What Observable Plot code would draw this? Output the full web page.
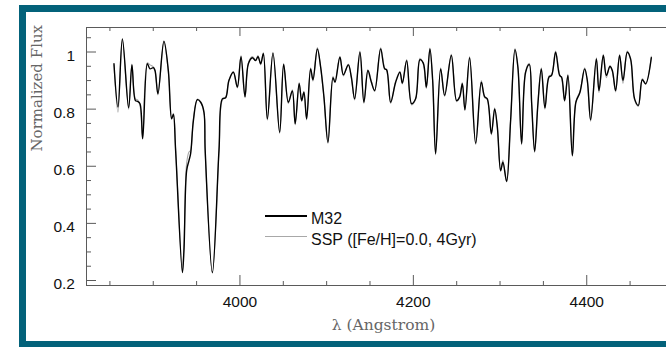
<!DOCTYPE html>
<html>
<head>
<meta charset="utf-8">
<script src="https://cdn.jsdelivr.net/npm/d3@7"></script>
<script src="https://cdn.jsdelivr.net/npm/@observablehq/plot@0.6"></script>
<style>
  html, body { margin: 0; padding: 0; width: 666px; height: 347px; overflow: hidden; background: #fff; }
  #border { position: absolute; left: 19px; top: 5px; width: 700px; height: 343px; box-sizing: border-box; border: 7px solid #03627a; }
  #chart { position: absolute; left: 0; top: 0; }
  .leg { position: absolute; font-family: "Liberation Sans", Arial, sans-serif; font-size: 16px; line-height: 16px; color: #111; white-space: nowrap; }
  .legline { position: absolute; }
</style>
</head>
<body>
<div id="border"></div>
<div id="chart"></div>
<div id="legend"></div>
<script>
// Wavelength samples (Angstrom)
const wavelength = [
  3854.7, 3859.3, 3864.4, 3871.6, 3875.4, 3879.4, 3882.0, 3884.7, 3887.8, 3893.2,
  3896.2, 3900.1, 3902.0, 3905.4, 3912.3, 3917.4, 3921.2, 3923.2, 3925.8, 3933.6,
  3935.4, 3938.5, 3941.2, 3943.1, 3946.3, 3950.9, 3954.7, 3958.5, 3959.9, 3968.2,
  3975.8, 3979.7, 3983.5, 3987.3, 3992.4, 3997.0, 4001.2, 4005.8, 4009.7, 4014.3,
  4018.1, 4020.8, 4023.9, 4027.0, 4031.6, 4038.1, 4045.8, 4050.4, 4055.8, 4060.4,
  4063.7, 4068.3, 4071.2, 4073.8, 4076.9, 4081.5, 4084.2, 4089.3, 4093.1, 4096.9,
  4101.5, 4107.3, 4109.6, 4115.3, 4119.3, 4125.0, 4128.5, 4132.3, 4138.4, 4143.0,
  4147.6, 4151.6, 4155.4, 4162.3, 4166.9, 4169.2, 4173.8, 4179.6, 4184.5, 4187.3,
  4192.3, 4198.0, 4202.6, 4207.6, 4211.5, 4215.0, 4219.1, 4222.3, 4225.7, 4231.5,
  4236.1, 4243.8, 4249.9, 4253.4, 4256.5, 4259.5, 4264.9, 4271.9, 4278.4, 4282.2,
  4285.3, 4290.0, 4293.8, 4296.9, 4300.7, 4303.3, 4307.6, 4312.2, 4317.2, 4320.6,
  4324.9, 4329.5, 4333.8, 4336.5, 4339.9, 4343.7, 4347.6, 4351.8, 4356.4, 4359.5,
  4364.1, 4368.7, 4371.0, 4374.5, 4378.3, 4383.4, 4387.5, 4392.2, 4397.6, 4400.7,
  4404.5, 4411.1, 4414.1, 4419.1, 4422.6, 4426.8, 4429.5, 4433.3, 4437.9, 4441.8,
  4446.8, 4450.6, 4455.2, 4459.5, 4464.1, 4467.9, 4474.5
];
// M32 normalized flux
const fluxM32 = [
  0.959, 0.807, 1.046, 0.805, 0.955, 0.830, 0.827, 0.819, 0.696, 0.959,
  0.941, 0.945, 0.935, 0.854, 1.038, 0.935, 0.766, 0.781, 0.655, 0.228,
  0.305, 0.585, 0.620, 0.644, 0.760, 0.833, 0.824, 0.789, 0.655, 0.228,
  0.655, 0.836, 0.840, 0.900, 0.929, 0.877, 0.984, 0.844, 0.959, 0.980,
  0.970, 0.984, 0.959, 0.994, 0.766, 0.996, 0.719, 0.956, 0.824, 0.864,
  0.749, 0.889, 0.830, 0.859, 0.766, 0.941, 0.903, 1.011, 0.947, 0.842,
  0.684, 0.910, 0.894, 0.982, 0.920, 0.955, 0.912, 0.836, 0.999, 0.824,
  0.935, 0.894, 0.865, 1.011, 0.941, 0.938, 0.824, 0.894, 0.929, 0.891,
  0.970, 0.819, 0.836, 0.973, 0.961, 0.877, 1.011, 0.900, 0.644, 0.941,
  0.848, 0.988, 0.830, 0.842, 0.889, 0.798, 0.980, 0.680, 0.894, 0.844,
  0.836, 0.714, 0.801, 0.737, 0.585, 0.614, 0.547, 0.760, 1.008, 0.947,
  0.679, 0.929, 0.956, 0.819, 0.652, 0.819, 0.941, 0.805, 0.912, 0.918,
  0.999, 0.918, 0.912, 0.830, 0.918, 0.638, 0.824, 0.859, 0.941, 0.900,
  0.763, 0.976, 0.865, 0.988, 0.918, 0.949, 0.935, 0.865, 0.988, 0.900,
  0.999, 0.976, 0.836, 0.813, 0.903, 0.889, 0.980
];
// SSP ([Fe/H]=0.0, 4Gyr) normalized flux
const fluxSSP = [
  0.955, 0.789, 1.042, 0.800, 0.958, 0.836, 0.832, 0.812, 0.700, 0.962,
  0.955, 0.948, 0.938, 0.850, 1.035, 0.930, 0.770, 0.785, 0.660, 0.230,
  0.320, 0.610, 0.650, 0.655, 0.765, 0.835, 0.826, 0.790, 0.650, 0.226,
  0.650, 0.832, 0.842, 0.902, 0.932, 0.874, 0.988, 0.840, 0.962, 0.984,
  0.972, 0.988, 0.955, 0.998, 0.762, 0.999, 0.715, 0.960, 0.820, 0.868,
  0.745, 0.893, 0.826, 0.862, 0.762, 0.945, 0.898, 1.016, 0.943, 0.838,
  0.680, 0.915, 0.898, 0.985, 0.916, 0.958, 0.908, 0.832, 1.003, 0.820,
  0.938, 0.898, 0.862, 1.015, 0.944, 0.936, 0.820, 0.898, 0.932, 0.888,
  0.974, 0.815, 0.834, 0.978, 0.958, 0.872, 1.014, 0.896, 0.640, 0.945,
  0.845, 0.992, 0.826, 0.846, 0.893, 0.795, 0.984, 0.676, 0.900, 0.840,
  0.834, 0.710, 0.805, 0.733, 0.582, 0.622, 0.545, 0.764, 1.012, 0.943,
  0.675, 0.933, 0.960, 0.815, 0.648, 0.823, 0.945, 0.800, 0.916, 0.921,
  1.003, 0.922, 0.908, 0.826, 0.922, 0.634, 0.828, 0.862, 0.945, 0.896,
  0.758, 0.980, 0.858, 0.992, 0.910, 0.953, 0.932, 0.860, 0.992, 0.890,
  1.003, 0.972, 0.832, 0.810, 0.907, 0.886, 0.985
];

// Axis definitions
const xDomain = [3823, 4492];
const yDomain = [0.1825, 1.0858];
const xMajorTicks = [4000, 4200, 4400];
const xMinorTicks = [3850, 3900, 3950, 4050, 4100, 4150, 4250, 4300, 4350, 4450];
const yMajorTicks = [0.2, 0.4, 0.6, 0.8, 1.0];
const yMinorTicks = [0.25, 0.3, 0.35, 0.45, 0.5, 0.55, 0.65, 0.7, 0.75, 0.85, 0.9, 0.95, 1.05];
const xTitle = "λ (Angstrom)";
const yTitle = "Normalized Flux";
const seriesNames = ["M32", "SSP ([Fe/H]=0.0, 4Gyr)"];
const seriesColors = ["#000000", "#a8a8a8"];

const table = wavelength.map((w, i) => ({w, m32: fluxM32[i], ssp: fluxSSP[i]}));

const W = 666, H = 347, mL = 86, mT = 27, mR = 0, mB = 62;
const fw = W - mL - mR, fh = H - mT - mB;
const axisColor = "#5a5a5a";
const sans = "'Liberation Sans', Arial, sans-serif";
const serif = "'DejaVu Serif', serif";

const chart = Plot.plot({
  width: W, height: H,
  marginLeft: mL, marginTop: mT, marginRight: mR, marginBottom: mB,
  x: {domain: xDomain, axis: null},
  y: {domain: yDomain, axis: null},
  style: {background: "transparent", overflow: "visible"},
  marks: [
    Plot.line(table, {x: "w", y: "ssp", stroke: seriesColors[1], strokeWidth: 1.1, curve: "catmull-rom"}),
    Plot.line(table, {x: "w", y: "m32", stroke: seriesColors[0], strokeWidth: 1.4, curve: "catmull-rom"}),
    // frame (top, bottom, left)
    Plot.ruleY([yDomain[1], yDomain[0]], {stroke: axisColor, strokeWidth: 1}),
    Plot.ruleX([xDomain[0]], {stroke: axisColor, strokeWidth: 1}),
    // x ticks bottom & top
    Plot.ruleX(xMajorTicks, {stroke: axisColor, insetTop: fh - 10}),
    Plot.ruleX(xMinorTicks, {stroke: axisColor, insetTop: fh - 4}),
    Plot.ruleX(xMajorTicks, {stroke: axisColor, insetBottom: fh - 9}),
    Plot.ruleX(xMinorTicks, {stroke: axisColor, insetBottom: fh - 4}),
    // y ticks left
    Plot.ruleY(yMajorTicks, {stroke: axisColor, insetRight: fw - 10}),
    Plot.ruleY(yMinorTicks, {stroke: axisColor, insetRight: fw - 5}),
    // tick labels
    Plot.text(xMajorTicks, {x: d => d, frameAnchor: "bottom", dy: 21, text: d => String(d),
      fontFamily: sans, fontSize: 15.5, fill: "#111"}),
    Plot.text(yMajorTicks, {y: d => d, frameAnchor: "left", dx: -11.5, dy: 4, textAnchor: "end",
      text: d => (d === 1 ? "1" : d.toFixed(1)), fontFamily: sans, fontSize: 15.5, fill: "#111"}),
    // axis titles
    Plot.text([xTitle], {frameAnchor: "bottom", dx: 7, dy: 44, text: d => d,
      fontFamily: serif, fontSize: 15.5, fill: "#666"}),
    Plot.text([yTitle], {frameAnchor: "left", dx: -49, dy: -5, rotate: -90, text: d => d,
      fontFamily: serif, fontSize: 15, fill: "#666"})
  ]
});
document.getElementById("chart").appendChild(chart);

// legend
const legend = document.getElementById("legend");
const legRows = [
  {lineTop: 215, lineH: 1.5, textTop: 211},
  {lineTop: 236, lineH: 1, textTop: 231.5}
];
seriesNames.forEach((name, i) => {
  const ln = document.createElement("div");
  ln.className = "legline";
  ln.style.left = "265px"; ln.style.width = "42px";
  ln.style.top = legRows[i].lineTop + "px"; ln.style.height = legRows[i].lineH + "px";
  ln.style.background = seriesColors[i];
  legend.appendChild(ln);
  const tx = document.createElement("div");
  tx.className = "leg";
  tx.style.left = "311px"; tx.style.top = legRows[i].textTop + "px";
  tx.textContent = name;
  legend.appendChild(tx);
});
</script>
</body>
</html>
